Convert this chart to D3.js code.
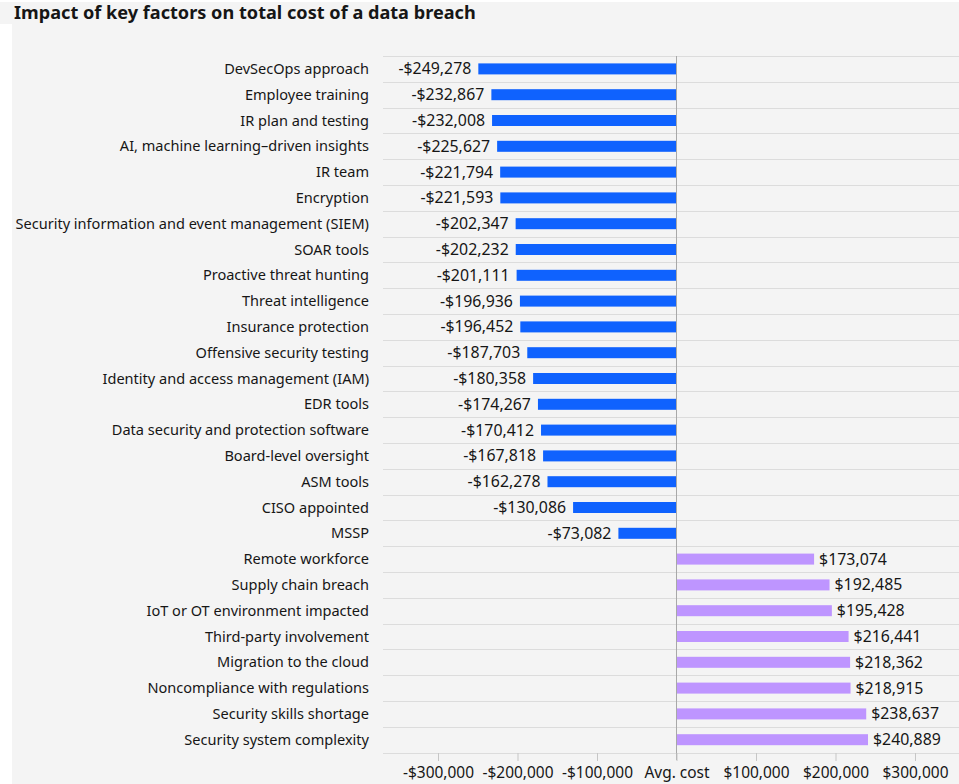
<!DOCTYPE html>
<html>
<head>
<meta charset="utf-8">
<script src="https://cdn.jsdelivr.net/npm/d3@7"></script>
<style>
  html, body { margin: 0; padding: 0; background: #ffffff; }
  svg { display: block; }
</style>
</head>
<body>
<svg id="chart" width="959" height="784"></svg>
<script>
const categories = [
  "DevSecOps approach", "Employee training", "IR plan and testing",
  "AI, machine learning–driven insights", "IR team", "Encryption",
  "Security information and event management (SIEM)", "SOAR tools",
  "Proactive threat hunting", "Threat intelligence", "Insurance protection",
  "Offensive security testing", "Identity and access management (IAM)",
  "EDR tools", "Data security and protection software", "Board-level oversight",
  "ASM tools", "CISO appointed", "MSSP",
  "Remote workforce", "Supply chain breach", "IoT or OT environment impacted",
  "Third-party involvement", "Migration to the cloud",
  "Noncompliance with regulations", "Security skills shortage",
  "Security system complexity"
];
const values = [
  -249278, -232867, -232008, -225627, -221794, -221593, -202347, -202232,
  -201111, -196936, -196452, -187703, -180358, -174267, -170412, -167818,
  -162278, -130086, -73082,
  173074, 192485, 195428, 216441, 218362, 218915, 238637, 240889
];
const tickValues = [-300000, -200000, -100000, 0, 100000, 200000, 300000];
const tickLabels = ["-$300,000", "-$200,000", "-$100,000", "Avg. cost", "$100,000", "$200,000", "$300,000"];
const title = "Impact of key factors on total cost of a data breach";

const data = categories.map((c, i) => ({ name: c, value: values[i] }));

const W = 959, H = 784;
const svg = d3.select("#chart");
const FONT = "'Noto Sans', 'Open Sans', sans-serif";
const TFONT = "'Noto Sans', 'Open Sans', sans-serif";

// fit a font size so a sample string reaches a target width
function fitSize(str, family, weight, target) {
  const t = svg.append("text").attr("font-family", family).attr("font-weight", weight)
    .attr("font-size", 20).text(str);
  const w = t.node().getComputedTextLength();
  t.remove();
  return 20 * target / w;
}
const titleSize = fitSize(title, TFONT, 700, 462);
const labelSize = fitSize("Security information and event management (SIEM)", FONT, 400, 354);
const valueSize = fitSize("-$249,278", FONT, 400, 73);
const tickSize = fitSize("-$300,000", FONT, 400, 71);

// backgrounds
svg.append("rect").attr("x", 0).attr("y", 2).attr("width", W).attr("height", 22).attr("fill", "#f4f4f4");
svg.append("rect").attr("x", 12).attr("y", 24).attr("width", W - 12).attr("height", H - 24).attr("fill", "#f4f4f4");

svg.append("text")
  .attr("x", 14).attr("y", 19)
  .attr("font-family", TFONT).attr("font-weight", 700).attr("font-size", titleSize)
  .attr("fill", "#161616")
  .text(title);

const x = d3.scaleLinear().domain([-300000, 300000]).range([438, 915]);
const y = d3.scaleBand().domain(categories).range([56, 752.6]).paddingInner(0).paddingOuter(0);
const barH = 11;
const gridLeft = 383;

const fmt = v => (v < 0 ? "-$" : "$") + d3.format(",")(Math.abs(v));

// horizontal gridlines at row boundaries
const bounds = categories.map(c => y(c)).concat([y.range()[1]]);
svg.append("g").selectAll("line").data(bounds).join("line")
  .attr("x1", gridLeft).attr("x2", W)
  .attr("y1", d => Math.round(d) + 0.5).attr("y2", d => Math.round(d) + 0.5)
  .attr("stroke", "#dcdcdc").attr("stroke-width", 1);

// bars
svg.append("g").selectAll("rect").data(data).join("rect")
  .attr("x", d => x(Math.min(0, d.value)))
  .attr("width", d => Math.abs(x(d.value) - x(0)))
  .attr("y", d => y(d.name) + y.bandwidth() / 2 - barH / 2)
  .attr("height", barH)
  .attr("fill", d => d.value < 0 ? "#0f62fe" : "#be95ff");

// zero line
svg.append("line")
  .attr("x1", x(0)).attr("x2", x(0))
  .attr("y1", 56).attr("y2", 760)
  .attr("stroke", "#a8a8a8").attr("stroke-width", 1);

// category labels
svg.append("g").selectAll("text").data(data).join("text")
  .attr("x", 369)
  .attr("y", d => y(d.name) + y.bandwidth() / 2)
  .attr("dy", "0.35em")
  .attr("text-anchor", "end")
  .attr("font-family", FONT).attr("font-size", labelSize)
  .attr("fill", "#161616")
  .text(d => d.name);

// value labels
svg.append("g").selectAll("text").data(data).join("text")
  .attr("x", d => d.value < 0 ? x(d.value) - 7 : x(d.value) + 5)
  .attr("y", d => y(d.name) + y.bandwidth() / 2)
  .attr("dy", "0.35em")
  .attr("text-anchor", d => d.value < 0 ? "end" : "start")
  .attr("font-family", FONT).attr("font-size", valueSize)
  .attr("fill", "#161616")
  .text(d => fmt(d.value));

// x axis
const axis = d3.axisBottom(x)
  .tickValues(tickValues)
  .tickSize(8)
  .tickPadding(6)
  .tickFormat((d, i) => tickLabels[i]);
const ax = svg.append("g").attr("transform", `translate(0,${Math.round(y.range()[1])})`).call(axis);
ax.select(".domain").remove();
ax.selectAll(".tick line").attr("stroke", "#c6c6c6");
ax.selectAll(".tick text")
  .attr("font-family", FONT).attr("font-size", tickSize)
  .attr("fill", "#161616");
</script>
</body>
</html>
